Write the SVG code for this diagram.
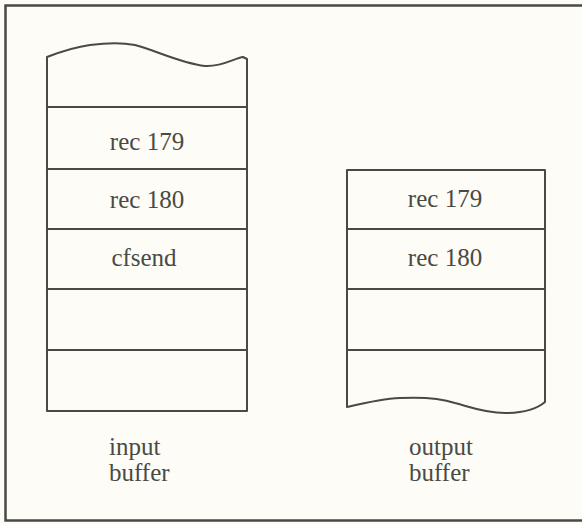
<svg xmlns="http://www.w3.org/2000/svg" width="582" height="524" viewBox="0 0 582 524">
<style>
.ln{fill:none;stroke:#4a4a44;stroke-width:2;stroke-linejoin:round;stroke-linecap:round}
.fr{fill:none;stroke:#4a4a44;stroke-width:2.5}
.t{font-family:"Liberation Serif","Times New Roman",serif;font-size:25px;fill:#4a4a44}
.c{text-anchor:middle}
</style>
<rect width="582" height="524" fill="#fdfcf7"/>
<path class="fr" d="M584 5.5 H5.5 V520.5 H584"/>
<g id="input-buffer">
<path class="ln" d="M47 411 V57 C60 52 75 47 90 45 C105 43 120 42 135 45 C155 50 180 63 205 66 C222 67 235 58 243 57 L247 59 V411 Z"/>
<path class="ln" d="M47 107 H247 M47 169 H247 M47 229 H247 M47 289 H247 M47 350 H247"/>
<text class="t c" x="147" y="150">rec 179</text>
<text class="t c" x="147" y="208">rec 180</text>
<text class="t c" x="144" y="266">cfsend</text>
<text class="t" x="109" y="455">input</text>
<text class="t" x="109" y="481">buffer</text>
</g>
<g id="output-buffer">
<path class="ln" d="M347 170 H545 V402 C538 408 525 413 505 413 C485 413 470 407 455 403 C440 398 420 397 400 398 C380 399 360 404 347 407 Z"/>
<path class="ln" d="M347 229 H545 M347 289 H545 M347 350 H545"/>
<text class="t c" x="445" y="207">rec 179</text>
<text class="t c" x="445" y="266">rec 180</text>
<text class="t" x="409" y="455">output</text>
<text class="t" x="409" y="481">buffer</text>
</g>
<g id="connectors"/>
</svg>
